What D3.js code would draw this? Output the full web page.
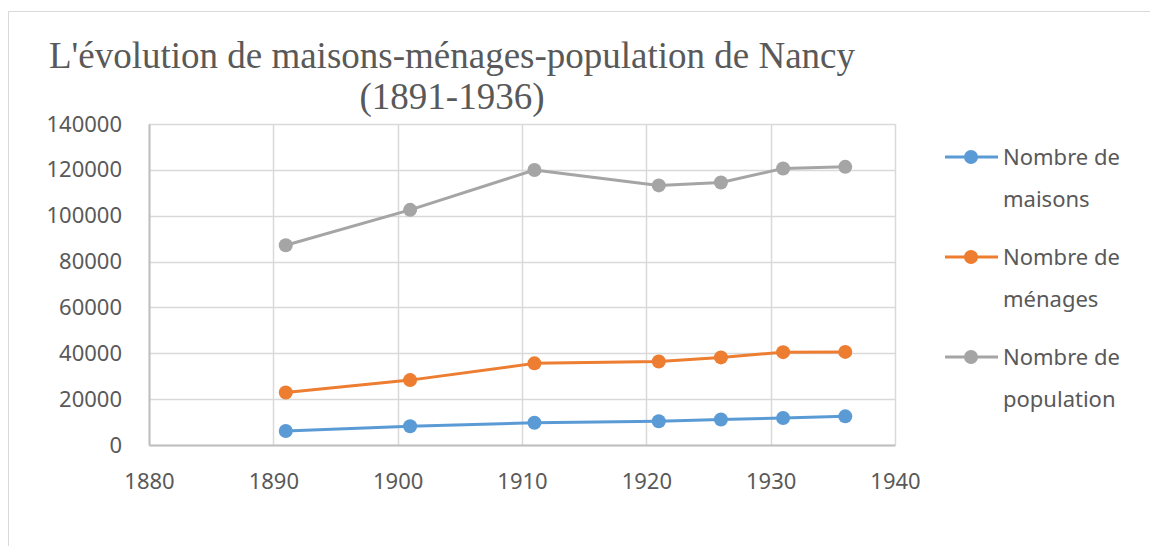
<!DOCTYPE html>
<html>
<head>
<meta charset="utf-8">
<script src="https://cdn.jsdelivr.net/npm/d3@7"></script>
<style>
  body { margin: 0; background: #fff; }
  text { fill: #595959; }
</style>
</head>
<body>
<div id="chart"></div>
<script>
// data
var years = [1891, 1901, 1911, 1921, 1926, 1931, 1936];
var maisons = [6100, 8150, 9700, 10350, 11100, 11800, 12500];
var menages = [22900, 28300, 35600, 36400, 38200, 40500, 40600];
var population = [87110, 102559, 119949, 113226, 114490, 120578, 121301];
var seriesNames = ["Nombre de maisons", "Nombre de ménages", "Nombre de population"];
var xTicks = [1880, 1890, 1900, 1910, 1920, 1930, 1940];
var yTicks = [0, 20000, 40000, 60000, 80000, 100000, 120000, 140000];

var svgWidth = 1150;
var svgHeight = 546;
var margin = { top: 124, right: 255, bottom: 101, left: 149 };
var width = svgWidth - margin.left - margin.right;
var height = svgHeight - margin.top - margin.bottom;

var colors = ["#5b9bd5", "#ed7d31", "#a5a5a5"];
var series = [maisons, menages, population];

var svg = d3.select("#chart")
    .append("svg")
    .attr("width", svgWidth)
    .attr("height", svgHeight);

// chart frame
svg.append("rect")
    .attr("x", 8.5)
    .attr("y", 11.5)
    .attr("width", 1160)
    .attr("height", 560)
    .attr("fill", "none")
    .attr("stroke", "#d9d9d9");

// title
var title = svg.append("text")
    .attr("text-anchor", "middle")
    .style("font-family", "'Liberation Serif', 'Times New Roman', serif")
    .style("font-size", "37px");
title.append("tspan").attr("x", 452).attr("y", 68)
    .text("L'évolution de maisons-ménages-population de Nancy");
title.append("tspan").attr("x", 452).attr("y", 109)
    .text("(1891-1936)");

var chartGroup = svg.append("g")
    .attr("transform", `translate(${margin.left}, ${margin.top})`);

var xScale = d3.scaleLinear().domain([1880, 1940]).range([0, width]);
var yScale = d3.scaleLinear().domain([0, 140000]).range([height, 0]);

// gridlines
chartGroup.append("g")
    .selectAll("line.h")
    .data(yTicks)
    .enter().append("line")
    .attr("x1", 0).attr("x2", width)
    .attr("y1", d => Math.round(yScale(d)) + 0.5)
    .attr("y2", d => Math.round(yScale(d)) + 0.5)
    .attr("stroke", "#d9d9d9")
    .attr("stroke-width", 1.5);

chartGroup.append("g")
    .selectAll("line.v")
    .data(xTicks)
    .enter().append("line")
    .attr("y1", 0).attr("y2", height)
    .attr("x1", d => Math.round(xScale(d)) + 0.5)
    .attr("x2", d => Math.round(xScale(d)) + 0.5)
    .attr("stroke", "#d9d9d9")
    .attr("stroke-width", 1.5);

// axes
var bottomAxis = d3.axisBottom(xScale).tickValues(xTicks).tickFormat(d3.format("d")).tickSize(0).tickPadding(28);
var leftAxis = d3.axisLeft(yScale).tickValues(yTicks).tickFormat(d3.format("d")).tickSize(0).tickPadding(27);

var xAxis = chartGroup.append("g")
    .attr("transform", `translate(0, ${height})`)
    .call(bottomAxis);
var yAxis = chartGroup.append("g")
    .call(leftAxis);

[xAxis, yAxis].forEach(function(ax) {
    ax.select(".domain").attr("stroke", "#bfbfbf").attr("stroke-width", 2);
    ax.selectAll("text")
        .style("font-family", "'Noto Sans', 'Open Sans', sans-serif")
        .style("font-size", "22px")
        .attr("fill", "#595959");
});

// lines and markers
var line = d3.line()
    .x((d, i) => xScale(years[i]))
    .y(d => yScale(d));

series.forEach(function(values, k) {
    chartGroup.append("path")
        .datum(values)
        .attr("d", line)
        .attr("fill", "none")
        .attr("stroke", colors[k])
        .attr("stroke-width", 3)
        .attr("stroke-linejoin", "round");

    chartGroup.selectAll(null)
        .data(values)
        .enter().append("circle")
        .attr("cx", (d, i) => xScale(years[i]))
        .attr("cy", d => yScale(d))
        .attr("r", 7)
        .attr("fill", colors[k]);
});

// legend
var legend = svg.append("g").attr("transform", "translate(945, 157)");
seriesNames.forEach(function(name, k) {
    var g = legend.append("g").attr("transform", `translate(0, ${k * 100})`);
    g.append("line")
        .attr("x1", 0).attr("x2", 53)
        .attr("stroke", colors[k])
        .attr("stroke-width", 3);
    g.append("circle")
        .attr("cx", 26).attr("r", 7)
        .attr("fill", colors[k]);
    var words = name.split(" ");
    var t = g.append("text")
        .style("font-family", "'Noto Sans', 'Open Sans', sans-serif")
        .style("font-size", "22px");
    t.append("tspan").attr("x", 58).attr("y", 8).text(words.slice(0, 2).join(" "));
    t.append("tspan").attr("x", 58).attr("y", 50).text(words.slice(2).join(" "));
});
</script>
</body>
</html>
